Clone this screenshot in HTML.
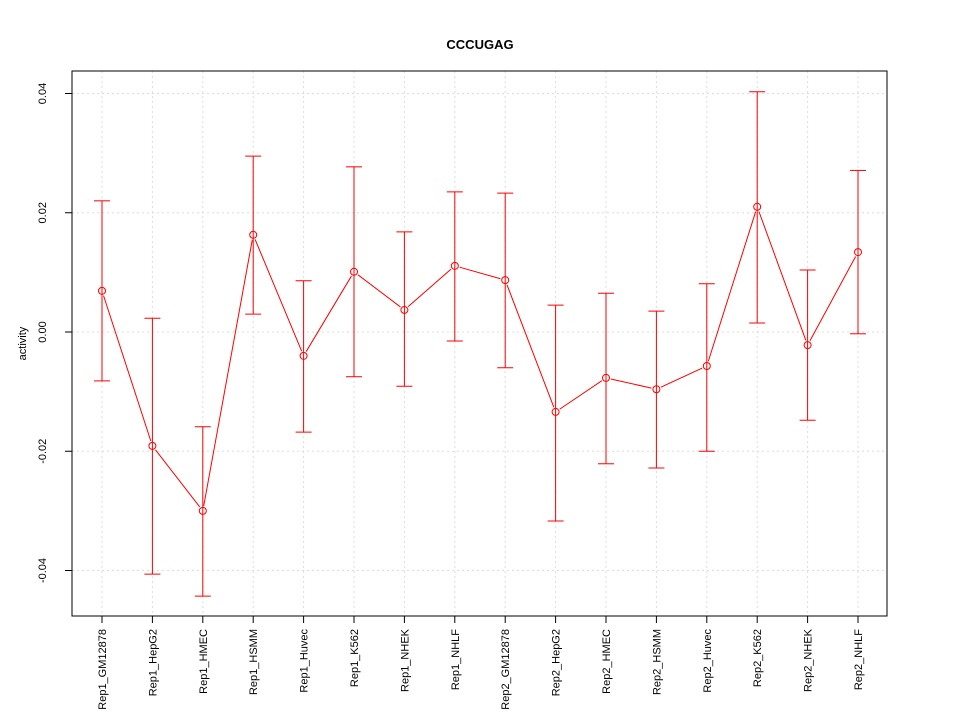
<!DOCTYPE html>
<html><head><meta charset="utf-8"><style>
body{margin:0;background:#fff}
svg text{font-family:"Liberation Sans",sans-serif}
</style></head><body>
<svg id="chart" width="960" height="720"></svg>
<script>
const categories=["Rep1_GM12878","Rep1_HepG2","Rep1_HMEC","Rep1_HSMM","Rep1_Huvec","Rep1_K562","Rep1_NHEK","Rep1_NHLF","Rep2_GM12878","Rep2_HepG2","Rep2_HMEC","Rep2_HSMM","Rep2_Huvec","Rep2_K562","Rep2_NHEK","Rep2_NHLF"];
const values=[0.0069,-0.0191,-0.0300,0.0163,-0.0040,0.0101,0.0037,0.0111,0.0087,-0.0134,-0.0077,-0.0096,-0.0057,0.0210,-0.0022,0.0134];
const upper=[0.0220,0.0023,-0.0159,0.0295,0.0086,0.0277,0.0168,0.0235,0.0233,0.0045,0.0065,0.0035,0.0081,0.0403,0.0104,0.0271];
const lower=[-0.0082,-0.0406,-0.0443,0.0030,-0.0168,-0.0075,-0.0091,-0.0015,-0.0060,-0.0317,-0.0221,-0.0228,-0.0200,0.0015,-0.0148,-0.0003];
const yTicks=[-0.04,-0.02,0.00,0.02,0.04];
const yTickLabels=["-0.04","-0.02","0.00","0.02","0.04"];

const svg=document.getElementById('chart');
const NS='http://www.w3.org/2000/svg';
function mk(tag,attrs,parent){const e=document.createElementNS(NS,tag);for(const k in attrs)e.setAttribute(k,attrs[k]);(parent||svg).appendChild(e);return e;}
const L=72,R=887,T=71,B=616;
const x=i=>102+i*(858-102)/(categories.length-1);
const y=v=>332-v*5962.5;

categories.forEach((c,i)=>{const g=mk('line',{x1:x(i),x2:x(i),y1:T,y2:B,stroke:'#dcdcdc','stroke-dasharray':'2,3','stroke-width':1});

});
yTicks.forEach(v=>{const g=mk('line',{x1:L,x2:R,y1:y(v),y2:y(v),stroke:'#dcdcdc','stroke-dasharray':'2,3','stroke-width':1});

});

const box=mk('rect',{x:L,y:T,width:R-L,height:B-T,fill:'none',stroke:'#000'});



yTicks.forEach((v,i)=>{
 const t=mk('line',{x1:L-7,x2:L,y1:y(v),y2:y(v),stroke:'#000'});
 
 
 const tx=mk('text',{x:0,y:0,'font-size':11,'text-anchor':'middle',transform:`translate(${L-26},${y(v)}) rotate(-90)`});
 tx.textContent=yTickLabels[i];
 
 
});
const yl=mk('text',{x:0,y:0,'font-size':11,'text-anchor':'middle',transform:`translate(26,${(T+B)/2}) rotate(-90)`});
yl.textContent='activity';



categories.forEach((c,i)=>{
 const t=mk('line',{x1:x(i),x2:x(i),y1:B,y2:B+7,stroke:'#000'});
 
 
 const tx=mk('text',{x:0,y:0,'font-size':11,'text-anchor':'end',transform:`translate(${x(i)+4},${B+13}) rotate(-90)`});
 tx.textContent=c;
 
 
});

const title=mk('text',{x:480,y:49,'font-size':13,'font-weight':'bold','text-anchor':'middle'});
title.textContent='CCCUGAG';



categories.forEach((c,i)=>{
 const g=mk('g',{stroke:'#ff0000','stroke-width':1});
 
 
 mk('line',{x1:x(i),x2:x(i),y1:y(upper[i]),y2:y(lower[i])},g);
 mk('line',{x1:x(i)-8,x2:x(i)+8,y1:y(upper[i]),y2:y(upper[i])},g);
 mk('line',{x1:x(i)-8,x2:x(i)+8,y1:y(lower[i]),y2:y(lower[i])},g);
});
for(let i=0;i<values.length-1;i++){
 const x1=x(i),y1=y(values[i]),x2=x(i+1),y2=y(values[i+1]);
 const dx=x2-x1,dy=y2-y1,d=Math.hypot(dx,dy),r=5;
 const s=mk('line',{x1:x1+dx/d*r,y1:y1+dy/d*r,x2:x2-dx/d*r,y2:y2-dy/d*r,stroke:'#ff0000'});
 
 
}
values.forEach((v,i)=>{
 const p=mk('circle',{cx:x(i),cy:y(v),r:3.5,fill:'none',stroke:'#ff0000'});
 
 
});
</script>
</body></html>
